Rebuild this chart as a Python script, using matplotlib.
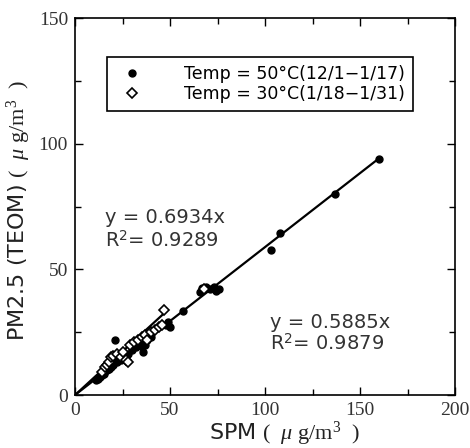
import matplotlib.pyplot as plt
from matplotlib.ticker import MultipleLocator

# 50 degC period (12/1-1/17), filled circles
spm_50 = [11, 12, 13, 14, 15, 16, 17, 18, 19, 20, 21, 22, 24, 26, 28, 30, 32, 34, 35, 36,
          37, 36, 38, 40, 48, 50, 49, 57, 66, 67, 69, 71, 73, 74, 76, 103, 108, 137, 160]
pm_50 = [6, 6.5, 7, 8, 8.5, 9.5, 10, 10.5, 11, 12, 22, 13, 14, 15, 16.5, 18, 19, 20, 19.5, 21,
         20, 17, 22, 23, 28, 27, 29, 33.5, 41, 42.5, 43, 42, 43, 41.5, 42, 57.5, 64.5, 80, 94]

# 30 degC period (1/18-1/31), open diamonds
spm_30 = [14, 16, 17, 18, 19, 20, 22, 24, 25, 27, 28, 29, 31, 33, 35, 37, 38, 40, 42, 44,
          47, 46, 68]
pm_30 = [9, 11, 12, 13, 15, 15.5, 16.5, 15, 17, 14, 13, 20, 21, 22, 23, 24, 22, 25, 26, 27,
         34, 28, 42]

slope_50, r2_50, xmax_50 = 0.5885, 0.9879, 160
slope_30, r2_30, xmax_30 = 0.6934, 0.9289, 48

# serif for the unit part of the axis labels, sans for the R^2 superscript
plt.rcParams['mathtext.fontset'] = 'custom'
plt.rcParams['mathtext.rm'] = 'Liberation Serif'
plt.rcParams['mathtext.it'] = 'Liberation Serif:italic'
plt.rcParams['mathtext.sf'] = 'DejaVu Sans'

fig = plt.figure(figsize=(4.7, 4.48), dpi=100)
ax = fig.add_axes([0.1596, 0.1183, 0.8085, 0.8415])

ax.plot([0, xmax_50], [0, slope_50 * xmax_50], color='black', lw=1.6, zorder=2)
ax.plot([0, xmax_30], [0, slope_30 * xmax_30], color='black', lw=1.6, zorder=2)
ax.plot(spm_50, pm_50, 'o', color='black', ms=5, zorder=3,
        label='Temp = 50\u00b0C(12/1\u22121/17)')
ax.plot(spm_30, pm_30, 'D', mfc='white', mec='black', mew=1.2, ms=5, zorder=4,
        label='Temp = 30\u00b0C(1/18\u22121/31)')

ax.set_xlim(0, 200)
ax.set_ylim(0, 150)
ax.xaxis.set_major_locator(MultipleLocator(50))
ax.yaxis.set_major_locator(MultipleLocator(50))
ax.xaxis.set_minor_locator(MultipleLocator(25))
ax.yaxis.set_minor_locator(MultipleLocator(25))
ax.tick_params(which='both', direction='in', top=True, right=True, width=1, colors='black',
               labelcolor='#333333')
ax.tick_params(which='major', length=6, pad=5)
ax.tick_params(which='minor', length=4)
for lab in ax.get_xticklabels() + ax.get_yticklabels():
    lab.set_fontfamily('Liberation Serif')
    lab.set_fontsize(14)
for s in ax.spines.values():
    s.set_linewidth(1.2)

unit = r'$(\ \ \mu\ \mathrm{g/m^3}\ \ )$'
ax.set_xlabel('SPM ' + unit, fontsize=16, family='DejaVu Sans', color='#222222')
ax.set_ylabel('PM2.5 (TEOM) ' + unit, fontsize=16, family='DejaVu Sans', color='#222222')
ax.xaxis.set_label_coords(0.55, -0.065)
ax.yaxis.set_label_coords(-0.11, 0.49)

ax.text(16, 70.5, 'y = %.4fx' % slope_30, fontsize=14, family='DejaVu Sans', color='#333333', va='center')
ax.text(16, 61.5, 'R$^\\mathsf{2}$= %.4f' % r2_30, fontsize=14, family='DejaVu Sans', color='#333333', va='center')
ax.text(102.5, 29, 'y = %.4fx' % slope_50, fontsize=14, family='DejaVu Sans', color='#333333', va='center')
ax.text(102.5, 20.3, 'R$^\\mathsf{2}$= %.4f' % r2_50, fontsize=14, family='DejaVu Sans', color='#333333', va='center')

leg = ax.legend(loc='upper left', bbox_to_anchor=(0.084, 0.897), borderaxespad=0, fancybox=False,
                edgecolor='black', framealpha=1, handletextpad=2.0, borderpad=0.45, labelspacing=0.15,
                prop={'family': 'DejaVu Sans', 'size': 12.5})
leg.get_frame().set_linewidth(1.2)

fig.savefig('out.png', dpi=100)
